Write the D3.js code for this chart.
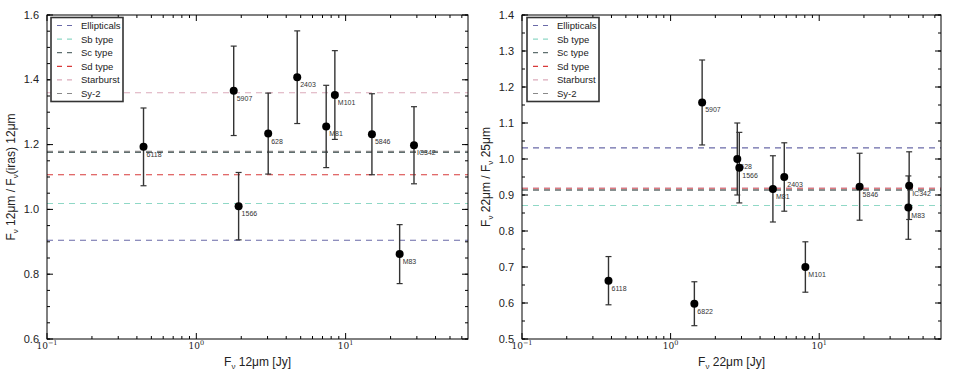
<!DOCTYPE html>
<html><head><meta charset="utf-8">
<script src="https://cdn.jsdelivr.net/npm/d3@7"></script>
<style>
body{margin:0;background:#fff;}
svg{font-family:"Liberation Sans",Arial,sans-serif;}
</style></head>
<body><svg id="c" width="954" height="379"></svg>
<script>
// ---------- data ----------
const templateNames = ["Ellipticals","Sb type","Sc type","Sd type","Starburst","Sy-2"];
const leftLevels  = [0.905, 1.018, 1.176, 1.107, 1.360, 1.179];
const rightLevels = [1.031, 0.871, 0.913, 0.917, 0.920, 0.915];

const leftNames = ["6118","5907","1566","628","2403","M81","M101","5846","M83","IC342"];
const leftX     = [0.443, 1.78, 1.92, 3.03, 4.74, 7.41, 8.47, 15.0, 23.0, 28.7];
const leftY     = [1.193, 1.366, 1.010, 1.234, 1.408, 1.256, 1.353, 1.232, 0.862, 1.198];
const leftErr   = [0.120, 0.138, 0.104, 0.125, 0.143, 0.127, 0.137, 0.125, 0.091, 0.119];

const rightNames = ["6118","6822","5907","628","1566","M81","2403","M101","5846","IC342","M83"];
const rightX     = [0.382, 1.445, 1.63, 2.81, 2.90, 4.88, 5.82, 8.07, 18.7, 40.3, 39.8];
const rightY     = [0.662, 0.598, 1.157, 1.000, 0.976, 0.917, 0.950, 0.700, 0.923, 0.926, 0.865];
const rightErr   = [0.067, 0.061, 0.118, 0.100, 0.098, 0.092, 0.095, 0.070, 0.093, 0.094, 0.088];

const xTickExps = [-1, 0, 1];

// ---------- styles ----------
const templateColors = ["#6a6aa8","#8fd8c6","#5f6f6f","#d83a3a","#dbabbb","#8a8a8a"];

const svg = d3.select("#c");

function panel(cfg){
  const {x0,x1,y0,y1,yDomain,yMajor,yMinorStep,levels,names,xs,ys,errs,xTitle,yTitle,legX} = cfg;
  const g = svg.append("g");
  const x = d3.scaleLog().domain([0.1, 66]).range([x0,x1]);
  const y = d3.scaleLinear().domain(yDomain).range([y1,y0]);

  levels.forEach((v,i)=>{
    g.append("line").attr("x1",x0).attr("x2",x1).attr("y1",y(v)).attr("y2",y(v))
      .attr("stroke",templateColors[i]).attr("stroke-width",1.1).attr("stroke-dasharray","6,5");
  });

  names.forEach((n,i)=>{
    const px = x(xs[i]), pyT = y(ys[i]+errs[i]), pyB = y(ys[i]-errs[i]);
    g.append("line").attr("x1",px).attr("x2",px).attr("y1",pyT).attr("y2",pyB)
      .attr("stroke","#333").attr("stroke-width",1.4);
    [pyT,pyB].forEach(yy=>g.append("line").attr("x1",px-3).attr("x2",px+3).attr("y1",yy).attr("y2",yy)
      .attr("stroke","#333").attr("stroke-width",1.2));
  });
  names.forEach((n,i)=>{
    const px = x(xs[i]), py = y(ys[i]);
    g.append("circle").attr("cx",px).attr("cy",py).attr("r",4).attr("fill","#000");
    g.append("text").attr("x",px+3).attr("y",py+10).attr("font-size",7).attr("fill","#333").text(n);
  });

  g.append("rect").attr("x",x0).attr("y",y0).attr("width",x1-x0).attr("height",y1-y0)
    .attr("fill","none").attr("stroke","#000").attr("stroke-width",1);

  const majors = xTickExps.map(e=>Math.pow(10,e));
  const minors = [];
  xTickExps.forEach(e=>{ for(let k=2;k<=9;k++){ const v=k*Math.pow(10,e); if(v<=66) minors.push(v);} });
  majors.forEach(v=>{
    const px=x(v);
    g.append("line").attr("x1",px).attr("x2",px).attr("y1",y1).attr("y2",y1-6).attr("stroke","#000");
    g.append("line").attr("x1",px).attr("x2",px).attr("y1",y0).attr("y2",y0+6).attr("stroke","#000");
  });
  minors.forEach(v=>{
    const px=x(v);
    g.append("line").attr("x1",px).attr("x2",px).attr("y1",y1).attr("y2",y1-3).attr("stroke","#000");
    g.append("line").attr("x1",px).attr("x2",px).attr("y1",y0).attr("y2",y0+3).attr("stroke","#000");
  });
  xTickExps.forEach(e=>{
    const t = g.append("text").attr("x",x(Math.pow(10,e))).attr("y",y1+10).attr("text-anchor","middle")
      .attr("font-family","'DejaVu Serif',serif").attr("font-size",9).attr("fill","#222");
    t.append("tspan").text("10");
    t.append("tspan").attr("dy",-4).attr("font-size",6.5).text(e===-1?"\u22121":String(e));
  });

  const yTicks = d3.range(yDomain[0], yDomain[1]+1e-9, yMajor);
  const yMin = d3.range(yDomain[0], yDomain[1]+1e-9, yMinorStep);
  yMin.forEach(v=>{
    g.append("line").attr("x1",x0).attr("x2",x0+3).attr("y1",y(v)).attr("y2",y(v)).attr("stroke","#000");
    g.append("line").attr("x1",x1).attr("x2",x1-3).attr("y1",y(v)).attr("y2",y(v)).attr("stroke","#000");
  });
  yTicks.forEach(v=>{
    g.append("line").attr("x1",x0).attr("x2",x0+6).attr("y1",y(v)).attr("y2",y(v)).attr("stroke","#000");
    g.append("line").attr("x1",x1).attr("x2",x1-6).attr("y1",y(v)).attr("y2",y(v)).attr("stroke","#000");
    g.append("text").attr("x",x0-8).attr("y",y(v)+3.5).attr("text-anchor","end")
      .attr("font-size",11).attr("fill","#222").text(d3.format(".1f")(v));
  });

  const xt = g.append("text").attr("x",(x0+x1)/2).attr("y",366).attr("text-anchor","middle")
    .attr("font-size",12).attr("fill","#222");
  xTitle(xt);
  const yt = g.append("text").attr("transform",`translate(${x0-32},${(y0+y1)/2}) rotate(-90)`)
    .attr("text-anchor","middle").attr("font-size",12).attr("fill","#222");
  yTitle(yt);

  const lg = g.append("g");
  lg.append("rect").attr("x",legX).attr("y",17.5).attr("width",72).attr("height",84)
    .attr("fill","#fff").attr("stroke","#333").attr("stroke-width",1.6);
  templateNames.forEach((n,i)=>{
    const yy = 25.5 + i*13.6;
    lg.append("line").attr("x1",legX+6).attr("x2",legX+22).attr("y1",yy).attr("y2",yy)
      .attr("stroke",templateColors[i]).attr("stroke-width",1.2).attr("stroke-dasharray","5,5");
    lg.append("text").attr("x",legX+30).attr("y",yy+3.5).attr("font-size",9.5).attr("fill","#222").text(n);
  });
}

function sub(t, s){ t.append("tspan").attr("font-size",8).attr("dy",3).text(s); }

panel({x0:47,x1:468,y0:15,y1:339,yDomain:[0.6,1.6],yMajor:0.2,yMinorStep:0.05,
  levels:leftLevels,names:leftNames,xs:leftX,ys:leftY,errs:leftErr,legX:51,
  xTitle:t=>{ t.append("tspan").text("F"); sub(t,"\u03bd"); t.append("tspan").attr("dy",-3).text(" 12\u03bcm [Jy]"); },
  yTitle:t=>{ t.append("tspan").text("F"); sub(t,"\u03bd"); t.append("tspan").attr("dy",-3).text(" 12\u03bcm / F");
              sub(t,"\u03bd"); t.append("tspan").attr("dy",-3).text("(iras) 12\u03bcm"); }
});
panel({x0:522,x1:941,y0:15,y1:339,yDomain:[0.5,1.4],yMajor:0.1,yMinorStep:0.05,
  levels:rightLevels,names:rightNames,xs:rightX,ys:rightY,errs:rightErr,legX:527,
  xTitle:t=>{ t.append("tspan").text("F"); sub(t,"\u03bd"); t.append("tspan").attr("dy",-3).text(" 22\u03bcm [Jy]"); },
  yTitle:t=>{ t.append("tspan").text("F"); sub(t,"\u03bd"); t.append("tspan").attr("dy",-3).text(" 22\u03bcm / F");
              sub(t,"\u03bd"); t.append("tspan").attr("dy",-3).text(" 25\u03bcm"); }
});
</script></body></html>
